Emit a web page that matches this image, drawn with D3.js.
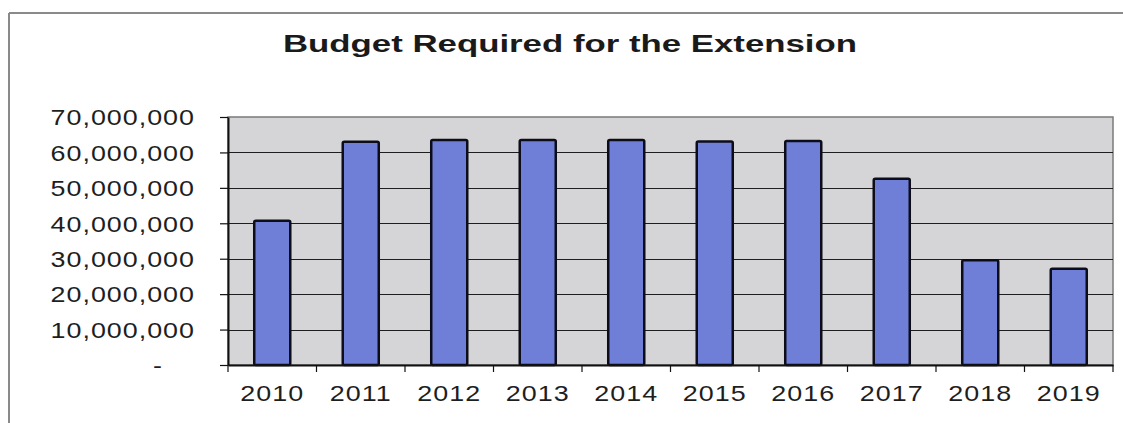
<!DOCTYPE html>
<html>
<head>
<meta charset="utf-8">
<script src="https://cdn.jsdelivr.net/npm/d3@7"></script>
<style>
  html, body { margin: 0; padding: 0; background: #fff; }
  svg { display: block; font-family: "Liberation Sans", Arial, sans-serif; }
</style>
</head>
<body>
<svg id="chart" width="1123" height="423"></svg>
<script>
const years = ["2010","2011","2012","2013","2014","2015","2016","2017","2018","2019"];
const budget = [40700000, 63000000, 63500000, 63500000, 63500000, 63100000, 63200000, 52600000, 29600000, 27200000];
const yTicks = [0, 10000000, 20000000, 30000000, 40000000, 50000000, 60000000, 70000000];
const title = "Budget Required for the Extension";

const svg = d3.select("#chart");
const plot = { left: 228, right: 1113, top: 117, bottom: 365 };

const x = d3.scaleBand().domain(years).range([plot.left, plot.right])
  .paddingInner(0.593).paddingOuter(0.2965);
const y = d3.scaleLinear().domain([0, 70000000]).range([plot.bottom, plot.top]);

// outer chart border (top + left visible)
svg.append("line").attr("x1", 9).attr("x2", 1123).attr("y1", 13).attr("y2", 13)
  .attr("stroke", "#8a8a8a").attr("stroke-width", 2);
svg.append("line").attr("x1", 9).attr("x2", 9).attr("y1", 13).attr("y2", 423)
  .attr("stroke", "#8a8a8a").attr("stroke-width", 2);

// title
svg.append("text").attr("x", 570).attr("y", 52).attr("text-anchor", "middle")
  .attr("font-size", 23.5).attr("font-weight", "bold").attr("fill", "#1a1a1a")
  .attr("textLength", 574).attr("lengthAdjust", "spacingAndGlyphs")
  .text(title);

// plot background
svg.append("rect").attr("x", plot.left).attr("y", plot.top)
  .attr("width", plot.right - plot.left).attr("height", plot.bottom - plot.top)
  .attr("fill", "#d5d5d7").attr("stroke", "#7a7a7a").attr("stroke-width", 1.5);

// gridlines
svg.append("g").selectAll("line").data(yTicks.filter(d => d > 0 && d < 70000000)).join("line")
  .attr("x1", plot.left).attr("x2", plot.right)
  .attr("y1", d => Math.round(y(d)) + 0.5).attr("y2", d => Math.round(y(d)) + 0.5)
  .attr("stroke", "#1e1e1e").attr("stroke-width", 1.2);

// bars
svg.append("g").selectAll("rect").data(years).join("rect")
  .attr("x", d => x(d))
  .attr("y", (d, i) => y(budget[i]))
  .attr("width", x.bandwidth())
  .attr("height", (d, i) => y(0) - y(budget[i]))
  .attr("fill", "#6f7fd8").attr("stroke", "#0d0d1a").attr("stroke-width", 2.5)
  .attr("rx", 1.5);

const sx = 1.25;
// y axis
const yAxis = d3.axisLeft(y).tickValues(yTicks).tickSize(8).tickSizeOuter(0)
  .tickFormat(d => d === 0 ? "-" : d3.format(",")(d));
const gy = svg.append("g").attr("transform", `translate(${plot.left},0)`).call(yAxis);
gy.select(".domain").attr("stroke", "#111").attr("stroke-width", 2);
gy.selectAll(".tick line").attr("stroke", "#111").attr("stroke-width", 1.2);
gy.selectAll(".tick text")
  .attr("font-size", 21.5).attr("fill", "#1e1e1e")
  .attr("letter-spacing", 0.8)
  .attr("transform", `scale(${sx},1)`)
  .attr("x", d => d === 0 ? -65 / sx : -33 / sx)
  .attr("dy", "0.36em");

// x axis (labels)
const xAxis = d3.axisBottom(x).tickSize(0).tickSizeOuter(0);
const gx = svg.append("g").attr("transform", `translate(0,${plot.bottom})`).call(xAxis);
gx.select(".domain").attr("stroke", "#111").attr("stroke-width", 2);
gx.selectAll(".tick text")
  .attr("font-size", 21.5).attr("fill", "#1e1e1e")
  .attr("letter-spacing", 0.8)
  .attr("transform", `scale(${sx},1)`)
  .attr("x", 0).attr("y", 36).attr("dy", 0);

// category boundary ticks
const bounds = years.map(d => x(d) - (x.step() - x.bandwidth()) / 2).concat([plot.right]);
svg.append("g").selectAll("line").data(bounds).join("line")
  .attr("x1", d => d).attr("x2", d => d)
  .attr("y1", plot.bottom).attr("y2", plot.bottom + 7)
  .attr("stroke", "#111").attr("stroke-width", 1.2);
</script>
</body>
</html>
